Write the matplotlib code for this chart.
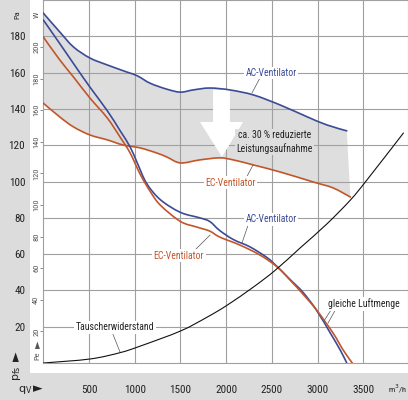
import numpy as np
import matplotlib
matplotlib.use("Agg")
import matplotlib.pyplot as plt
from matplotlib import font_manager as fm
from matplotlib.patches import Rectangle, Polygon, PathPatch
from matplotlib.path import Path

# ---------------- data ----------------
# pressure curves (Pa) vs air flow (m3/h)
ac_p_q = [0, 180, 330, 510, 700, 840, 950, 1030, 1130, 1280, 1500, 1710, 1820, 1930,
          2080, 2260, 2450, 2560, 2700, 2840, 2990, 3140, 3250, 3320]
ac_p_pa = [189, 176, 165, 152, 139, 128, 119, 110, 99, 90, 83, 80, 78, 73,
           68, 64, 58, 53, 46, 39, 29, 16.5, 7, 0]
ec_p_q = [0, 180, 330, 510, 700, 840, 950, 1060, 1170, 1280, 1500, 1680, 1820,
          1930, 2150, 2370, 2560, 2700, 2840, 2990, 3170, 3280, 3380]
ec_p_pa = [179.6, 167, 157.6, 146, 135, 124.5, 115.7, 104, 94.5, 87, 78, 74.9, 72.7,
           69.4, 65, 59.5, 52.9, 45.7, 38, 29.2, 16.5, 7.2, 0]
# power curves (W)
ac_w_q = [0, 180, 330, 510, 700, 920, 1030, 1170, 1350, 1500, 1640, 1820, 2040,
          2300, 2590, 2890, 3100, 3320]
ac_w = [221.4, 209.5, 200, 193, 188.6, 184, 181.7, 177, 173.3, 171.4, 172.8, 174, 172.8,
        169.6, 163.3, 155.7, 150.7, 146.9]
ec_w_q = [0, 180, 330, 510, 700, 870, 1060, 1240, 1350, 1500, 1710, 1930, 2080,
          2300, 2590, 2950, 3170, 3360]
ec_w = [164.4, 155.7, 149.4, 144.3, 141.2, 138, 136.1, 132.9, 130.4, 126.6, 128.5, 129.8, 128.5,
        125.3, 120.9, 114.6, 110.8, 105]
# system (heat exchanger) resistance
tw_q = [0, 510, 840, 1060, 1500, 1790, 2010, 2300, 2540, 2810, 3100, 3360, 3540, 3940]
tw_pa = [0, 2.2, 5.7, 9.3, 17.6, 25.2, 31.8, 41.9, 51.2, 63.4, 76.5, 89.8, 100.8, 126.7]

x_ticks = [500, 1000, 1500, 2000, 2500, 3000, 3500]
pa_ticks = [20, 40, 60, 80, 100, 120, 140, 160, 180]
w_ticks = [20, 40, 60, 80, 100, 120, 140, 160, 180, 200]

# ---------------- style ----------------
names = {f.name for f in fm.fontManager.ttflist}
main_font = None
for cand in ["Liberation Sans Narrow", "Roboto Condensed", "Open Sans Condensed"]:
    if cand in names:
        main_font = cand
        break
if main_font is None:
    main_font = "DejaVu Sans"
    plt.rcParams["font.stretch"] = "condensed"
plt.rcParams["font.family"] = [main_font, "DejaVu Sans"]

BG = "#dcdcdc"
FILL = "#dedede"
GRID = "#a0a0a0"
BLUE = "#3b4b96"
ORANGE = "#c3552a"
TXT = "#222222"
ARR = "►"


def smooth_vertices(xs, ys):
    """Cubic Bezier (Catmull-Rom) vertices through the read points."""
    P = np.column_stack([xs, ys]).astype(float)
    n = len(P)
    verts = [P[0]]
    for i in range(n - 1):
        p0 = P[i - 1] if i > 0 else P[i]
        p1, p2 = P[i], P[i + 1]
        p3 = P[i + 2] if i + 2 < n else P[i + 1]
        verts += [p1 + (p2 - p0) / 6.0, p2 - (p3 - p1) / 6.0, p2]
    return verts


def smooth_line(axis, xs, ys, trans, **kw):
    v = smooth_vertices(xs, ys)
    codes = [Path.MOVETO] + [Path.CURVE4] * (len(v) - 1)
    axis.add_patch(PathPatch(Path(v, codes), facecolor="none", transform=trans,
                             capstyle="round", **kw))


W_PX, H_PX = 408, 400
fig = plt.figure(figsize=(W_PX / 100, H_PX / 100), dpi=100, facecolor=BG)
fig.add_artist(Rectangle((30 / W_PX, 27 / H_PX), 378 / W_PX, 373 / H_PX,
                         transform=fig.transFigure, facecolor="white",
                         edgecolor="none", zorder=-1))

ax = fig.add_axes([43.3 / W_PX, 37 / H_PX, (408 - 43.3) / W_PX, 363 / H_PX])
ax2 = ax.twinx()
ax.set_zorder(2)
ax2.set_zorder(1)
ax.patch.set_visible(False)
ax2.patch.set_visible(False)

ax.set_xlim(0, 3990)
ax.set_ylim(0, 200)
ax2.set_ylim(0, 229.7)
ax.autoscale(False)
ax2.autoscale(False)

# grid
ax.set_axisbelow(True)
ax.set_xticks(x_ticks)
ax.set_yticks(pa_ticks)
ax.grid(True, color=GRID, lw=0.8)
for s in ax.spines.values():
    s.set_color(GRID)
    s.set_linewidth(0.8)
for s in ax2.spines.values():
    s.set_visible(False)

ax.tick_params(axis="y", length=0, pad=13, labelsize=8, labelcolor=TXT)
ax.tick_params(axis="x", length=0, pad=16, labelsize=8, labelcolor=TXT)

ax2.set_yticks(w_ticks)
ax2.tick_params(axis="y", left=True, right=False, labelleft=True, labelright=False,
                direction="out", length=2, width=0.6, color="#777777",
                pad=1, labelsize=6, labelcolor="#555555")
for lab in ax2.get_yticklabels():
    lab.set_rotation(90)
    lab.set_va("center")
    lab.set_ha("right")

wt = ax2.transData
pt = ax.transData

# gray area between power curves
va = smooth_vertices(ac_w_q, ac_w)
vb = smooth_vertices(ec_w_q[::-1], ec_w[::-1])
verts = va + vb + [va[0]]
codes = ([Path.MOVETO] + [Path.CURVE4] * (len(va) - 1) + [Path.LINETO]
         + [Path.CURVE4] * (len(vb) - 1) + [Path.CLOSEPOLY])
ax.add_patch(PathPatch(Path(verts, codes), facecolor=FILL, edgecolor="none",
                       transform=wt, zorder=0.2))

# white arrow
arrow = Polygon([(1857, 172.8), (2042, 172.8), (2042, 152.5), (2185, 152.5),
                 (1955, 130.4), (1714, 152.5), (1857, 152.5)], closed=True,
                transform=wt, facecolor="white", edgecolor="none", zorder=1)
ax.add_patch(arrow)

# curves
smooth_line(ax, ac_w_q, ac_w, wt, edgecolor=BLUE, lw=1.2, zorder=3)
smooth_line(ax, ec_w_q, ec_w, wt, edgecolor=ORANGE, lw=1.2, zorder=3)
smooth_line(ax, ac_p_q, ac_p_pa, pt, edgecolor=BLUE, lw=1.2, zorder=3)
smooth_line(ax, ec_p_q, ec_p_pa, pt, edgecolor=ORANGE, lw=1.2, zorder=3)
smooth_line(ax, tw_q, tw_pa, pt, edgecolor="#111111", lw=0.8, zorder=3)


# labels with leader lines
def label(x, y, s, color, lead, bg="white"):
    ax.text(x, y, s, color=color, fontsize=7, ha="center", va="center", zorder=5,
            bbox=dict(boxstyle="square,pad=0.15", facecolor=bg, edgecolor="none"))
    for (x0, y0, x1, y1) in lead:
        ax.plot([x0, x1], [y0, y1], color="#555555", lw=0.5, zorder=4)


label(2494, 159.8, "AC-Ventilator", BLUE, [(2370, 157, 2283, 148.8)])
label(2045, 99.2, "EC-Ventilator", ORANGE, [(2207, 100.8, 2295, 109.1)])
label(2494, 79.3, "AC-Ventilator", BLUE, [(2240, 76, 2174, 66.1)])
label(1484, 59.0, "EC-Ventilator", ORANGE, [(1660, 62.3, 1824, 70.5)])
label(3508, 32.5, "gleiche Luftmenge", TXT,
      [(3169, 30.9, 3070, 23.1), (3202, 29.8, 3115, 22.0)])
label(784, 19.8, "Tauscherwiderstand", TXT, [(752, 17.1, 839, 6.1)])
ax.text(2527, 121.8, "ca. 30 % reduzierte\nLeistungsaufnahme", color=TXT, fontsize=7,
        ha="center", va="center", linespacing=1.3, zorder=5,
        bbox=dict(boxstyle="square,pad=0.15", facecolor=FILL, edgecolor="none"))


# axis captions
def ftext(px, py, s, **kw):
    fig.text(px / W_PX, 1 - py / H_PX, s, ha="center", va="center", **kw)


ftext(17, 15, "Pa", rotation=90, fontsize=6, color=TXT)
ftext(37, 15, "W", rotation=90, fontsize=6, color="#555555")
ftext(17, 373, r"$\mathrm{p_{fs}}$", rotation=90, fontsize=8, color=TXT)
ftext(17, 356, ARR, rotation=90, fontsize=9, color=TXT, family="DejaVu Sans")
ftext(37, 356, "Pe", rotation=90, fontsize=6, color="#555555")
ftext(37, 344, ARR, rotation=90, fontsize=7, color="#555555", family="DejaVu Sans")
ftext(25, 390, r"$\mathrm{q_V}$", fontsize=8, color=TXT)
ftext(38, 389, ARR, fontsize=9, color=TXT, family="DejaVu Sans")
ftext(397, 389, r"m$^3$/h", fontsize=6, color=TXT)

fig.savefig("out.png", dpi=100, facecolor=BG)
